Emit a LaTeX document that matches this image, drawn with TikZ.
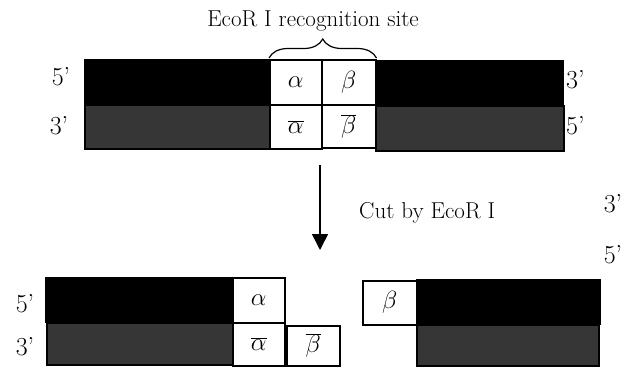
\documentclass[tikz,border=0pt]{standalone}
\usetikzlibrary{arrows.meta,decorations.pathreplacing}
\definecolor{dgray}{HTML}{363636}
\begin{document}
\begin{tikzpicture}[x=1pt,y=-1pt,
  blk/.style={draw=black, fill=black, line width=1pt, inner sep=0pt, anchor=north west},
  gry/.style={draw=black, fill=dgray, line width=1.5pt, inner sep=0pt, anchor=north west},
  basebox/.style={draw=black, fill=white, line width=1.5pt, inner sep=0pt, anchor=north west, font=\fontsize{26}{30}\selectfont},
  endlbl/.style={font=\fontsize{26}{30}\selectfont, inner sep=0pt},
  txt/.style={font=\fontsize{23}{27}\selectfont, inner sep=0pt}]
\useasboundingbox (0,0) rectangle (631,367);
% top duplex
\node[blk, minimum width=185pt, minimum height=45pt] (tl) at (84,59) {};
\node[basebox, minimum width=52pt, minimum height=45pt] (ta) at (269,59) {\raisebox{-5pt}{$\alpha$}};
\node[basebox, minimum width=54pt, minimum height=45pt] (tb) at (321,59) {\raisebox{-4pt}{$\beta$}};
\node[blk, minimum width=188pt, minimum height=44pt] (tr) at (375,60) {};
\node[gry, minimum width=185pt, minimum height=44pt] (bl) at (84,104) {};
\node[basebox, minimum width=52pt, minimum height=44pt] (ba) at (269,104) {\raisebox{-4pt}{$\overline{\alpha}$}};
\node[basebox, minimum width=54pt, minimum height=43pt] (bb) at (321,104) {\raisebox{-4pt}{$\overline{\beta}$}};
\node[gry, minimum width=188pt, minimum height=45pt] (br) at (375,105) {};
% brace and title
\draw[line width=1.2pt, decorate, decoration={brace, amplitude=19pt, raise=1pt}] (ta.north west) -- (tb.north east) coordinate[midway] (bmid);
\node[txt] (title) at (313,21) {EcoR I recognition site};
% end labels
\node[endlbl] (l5a) at (61,77) {5'};
\node[endlbl] (l3a) at (59,126) {3'};
\node[endlbl, anchor=west] (r3a) at (566,80) {3'};
\node[endlbl, anchor=west] (r5a) at (566,126) {5'};
% arrow
\coordinate (astart) at (320,165);
\coordinate (aend) at (320,250);
\draw[line width=1.5pt, -{Triangle[width=16pt,length=16pt]}] (astart) -- (aend);
\node[txt, anchor=west] (cut) at (359,213) {Cut by EcoR I};
\node[endlbl] (m3) at (613,204) {3'};
\node[endlbl] (m5) at (613,255) {5'};
% bottom left fragment
\node[blk, minimum width=187pt, minimum height=45pt] (fl1) at (45,277) {};
\node[basebox, minimum width=52pt, minimum height=45pt] (fa) at (232,277) {\raisebox{-3pt}{$\alpha$}};
\node[gry, minimum width=186pt, minimum height=42pt] (fl2) at (46,322) {};
\node[basebox, minimum width=52pt, minimum height=43pt] (fab) at (232,322) {\raisebox{-3pt}{$\overline{\alpha}$}};
\node[basebox, minimum width=53pt, minimum height=40pt] (fbb) at (286,325) {\raisebox{-2pt}{$\overline{\beta}$}};
\node[endlbl] (f5) at (25,304) {5'};
\node[endlbl] (f3) at (25,347) {3'};
% bottom right fragment
\node[basebox, minimum width=54pt, minimum height=44pt] (fb) at (362,280) {\raisebox{-2pt}{$\beta$}};
\node[blk, minimum width=184pt, minimum height=45pt] (fr1) at (416,279) {};
\node[gry, minimum width=182pt, minimum height=41pt] (fr2) at (416,324) {};
\end{tikzpicture}
\end{document}
